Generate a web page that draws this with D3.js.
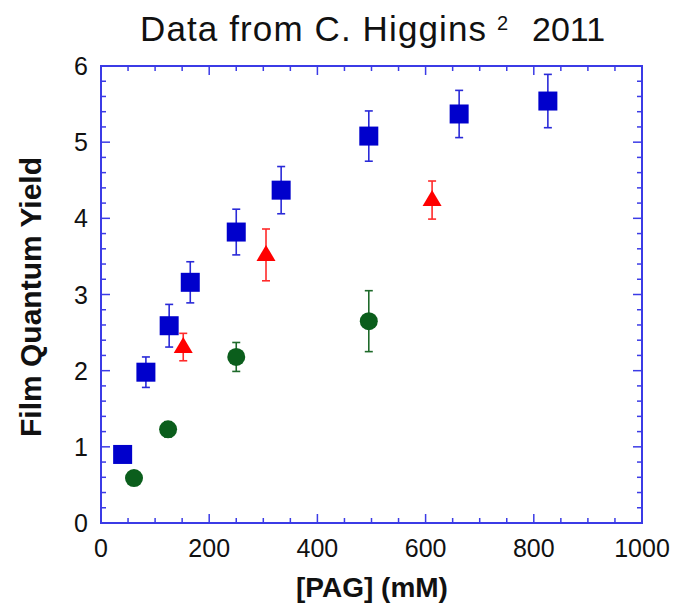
<!DOCTYPE html>
<html><head><meta charset="utf-8">
<script src="https://cdn.jsdelivr.net/npm/d3@7"></script>
<style>body{margin:0;background:#fff}</style></head>
<body><svg id="c" width="675" height="608"></svg>
<script>
const blueX=[40,83,126,165,250,333,495,662,826];
const blueY=[0.9,1.98,2.59,3.16,3.82,4.37,5.08,5.37,5.54];
const blueE=[0,0.2,0.28,0.27,0.3,0.31,0.33,0.31,0.35];
const redX=[152,305,612];
const redY=[2.31,3.52,4.24];
const redE=[0.18,0.34,0.25];
const greenX=[61,124,250,495];
const greenY=[0.59,1.23,2.18,2.65];
const greenE=[0,0.1,0.19,0.4];
const xTicks=[0,200,400,600,800,1000];
const yTicks=[0,1,2,3,4,5,6];

const svg=d3.select("#c");
const L=101,R=642,T=66,B=523;
const x=d3.scaleLinear().domain([0,1000]).range([L,R]);
const y=d3.scaleLinear().domain([0,6]).range([B,T]);
const axC="#3b3be6";
const font="Liberation Sans, Arial, sans-serif";

// frame
svg.append("rect").attr("x",L).attr("y",T).attr("width",R-L).attr("height",B-T)
 .attr("fill","none").attr("stroke",axC).attr("stroke-width",2);

// ticks
const xt=d3.range(0,1001,50), yt=d3.range(0,6.001,0.2);
const tg=svg.append("g").attr("stroke",axC).attr("stroke-width",1.5);
xt.forEach(v=>{const len=(Math.round(v)%200===0)?9:5;
 tg.append("line").attr("x1",x(v)).attr("x2",x(v)).attr("y1",B).attr("y2",B-len);
 tg.append("line").attr("x1",x(v)).attr("x2",x(v)).attr("y1",T).attr("y2",T+len);});
yt.forEach(v=>{const len=(Math.abs(v-Math.round(v))<1e-6)?9:5;
 tg.append("line").attr("y1",y(v)).attr("y2",y(v)).attr("x1",L).attr("x2",L+len);
 tg.append("line").attr("y1",y(v)).attr("y2",y(v)).attr("x1",R).attr("x2",R-len);});

// tick labels
svg.append("g").selectAll("text").data(xTicks).join("text")
 .attr("x",d=>x(d)).attr("y",557).attr("text-anchor","middle")
 .attr("font-family",font).attr("font-size",25).attr("fill","#111").text(d=>d);
svg.append("g").selectAll("text").data(yTicks).join("text")
 .attr("x",88).attr("y",d=>y(d)+9).attr("text-anchor","end")
 .attr("font-family",font).attr("font-size",25).attr("fill","#111").text(d=>d);

// axis titles
svg.append("text").attr("x",372).attr("y",597).attr("text-anchor","middle")
 .attr("font-family",font).attr("font-weight","bold").attr("font-size",28).attr("fill","#111").text("[PAG] (mM)");
svg.append("text").attr("transform","translate(41,297) rotate(-90)").attr("text-anchor","middle")
 .attr("font-family",font).attr("font-weight","bold").attr("font-size",30).attr("fill","#111").text("Film Quantum Yield");

// title
const tg2=svg.append("g").attr("font-family",font).attr("fill","#111");
tg2.append("text").attr("x",140).attr("y",41).attr("font-size",35)
 .attr("textLength",346).attr("lengthAdjust","spacing").text("Data from C. Higgins");
tg2.append("text").attr("x",497).attr("y",30).attr("font-size",20).text("2");
tg2.append("text").attr("x",532).attr("y",41).attr("font-size",34).text("2011");

function errBars(xs,ys,es,col){
 const g=svg.append("g").attr("stroke",col).attr("stroke-width",1.6);
 xs.forEach((xv,i)=>{ if(!es[i]) return;
  const cx=x(xv), y1=y(ys[i]+es[i]), y2=y(ys[i]-es[i]);
  g.append("line").attr("x1",cx).attr("x2",cx).attr("y1",y1).attr("y2",y2);
  g.append("line").attr("x1",cx-4).attr("x2",cx+4).attr("y1",y1).attr("y2",y1);
  g.append("line").attr("x1",cx-4).attr("x2",cx+4).attr("y1",y2).attr("y2",y2);});
}
errBars(blueX,blueY,blueE,"#2a2ad8");
errBars(redX,redY,redE,"#ff2a2a");
errBars(greenX,greenY,greenE,"#1e6a2a");

svg.append("g").selectAll("rect").data(blueX).join("rect")
 .attr("x",(d)=>x(d)-9.5).attr("y",(d,i)=>y(blueY[i])-9.5).attr("width",19).attr("height",19)
 .attr("fill","#0000cc");
svg.append("g").selectAll("path").data(redX).join("path")
 .attr("d",(d,i)=>{const cx=x(d),cy=y(redY[i]);return `M${cx},${cy-10}L${cx+9.5},${cy+6}L${cx-9.5},${cy+6}Z`;})
 .attr("fill","#ff0000");
svg.append("g").selectAll("circle").data(greenX).join("circle")
 .attr("cx",d=>x(d)).attr("cy",(d,i)=>y(greenY[i])).attr("r",9)
 .attr("fill","#0b5e1c");
</script></body></html>
